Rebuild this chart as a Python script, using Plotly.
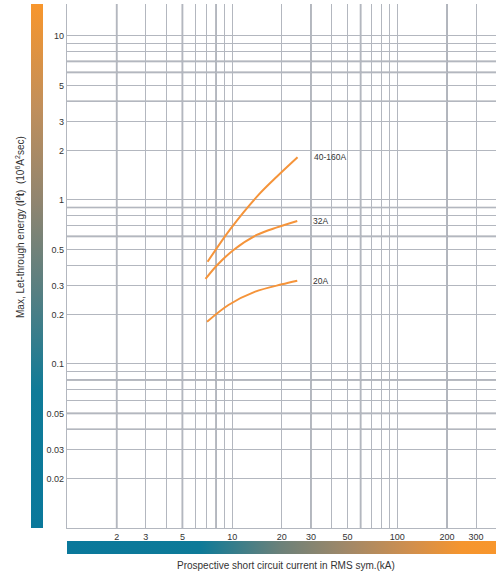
import math
import plotly.graph_objects as go

# ---- data ----
x_40_160 = [7.1, 9.7, 14.4, 18.7, 24.9]
y_40_160 = [0.42, 0.66, 1.07, 1.39, 1.82]

x_32 = [6.9, 8.1, 10.2, 14.1, 18.7, 24.8]
y_32 = [0.33, 0.40, 0.496, 0.612, 0.681, 0.745]

x_20 = [7.05, 9.5, 13.8, 20.0, 24.8]
y_20 = [0.181, 0.229, 0.276, 0.306, 0.322]

series = [("40-160A", x_40_160, y_40_160),
          ("32A", x_32, y_32),
          ("20A", x_20, y_20)]

x_grid = [1, 2, 3, 4, 5, 6, 7, 8, 9, 10, 20, 30, 40, 50, 60, 70, 80, 90, 100, 200, 300]
x_labels = {2: "2", 3: "3", 5: "5", 10: "10", 20: "20", 30: "30", 50: "50",
            100: "100", 200: "200", 300: "300"}
x_dark = [2, 5, 8, 30, 60, 200]

y_grid = [0.02, 0.03, 0.04, 0.05, 0.06, 0.07, 0.08, 0.09,
          0.1, 0.2, 0.3, 0.4, 0.5, 0.6, 0.7, 0.8, 0.9,
          1, 2, 3, 4, 5, 6, 7, 8, 9, 10]
y_labels = {0.02: "0.02", 0.03: "0.03", 0.05: "0.05", 0.1: "0.1", 0.2: "0.2",
            0.3: "0.3", 0.5: "0.5", 1: "1", 2: "2", 3: "3", 5: "5", 10: "10"}
y_dark = [0.04, 0.05, 0.08, 0.6, 0.9, 4, 6, 7]

ORANGE = "#F5943A"
FONT = "Liberation Sans, Arial, sans-serif"
TXT = "#333333"
GRID = "#B3B7BF"
GRID_DARK = "#A0A4AC"

fig = go.Figure()

for name, xs, ys in series:
    fig.add_trace(go.Scatter(x=xs, y=ys, mode="lines", name=name,
                             line=dict(color=ORANGE, width=2, shape="spline", smoothing=0.9),
                             showlegend=False, hoverinfo="skip"))
    fig.add_annotation(x=math.log10(xs[-1]), y=math.log10(ys[-1]), text=name,
                       showarrow=False, xanchor="left", yanchor="middle", xshift=14,
                       font=dict(family=FONT, size=8.5, color=TXT))

for v in x_dark:
    fig.add_shape(type="line", xref="x", yref="paper", x0=v, x1=v, y0=0, y1=1,
                  line=dict(color=GRID_DARK, width=1.7), layer="below")
for v in y_dark:
    fig.add_shape(type="line", xref="paper", yref="y", x0=0, x1=1, y0=v, y1=v,
                  line=dict(color=GRID_DARK, width=1.7), layer="below")

# gradient bars via colorbars of hidden dummy traces
v_scale = [[0, "#0a789b"], [0.26, "#0f7b98"], [0.45, "#567f82"], [0.62, "#8f8570"],
           [0.8, "#c08f5c"], [1, "#f8962c"]]
h_scale = [[0, "#0a789b"], [0.31, "#0e7a98"], [0.5, "#6d8179"], [0.65, "#a08868"],
           [0.8, "#d08f4e"], [0.92, "#f5952e"], [1, "#f8962c"]]

fig.add_trace(go.Scatter(
    x=[5000, 5000], y=[1, 1], mode="markers", showlegend=False, hoverinfo="skip",
    marker=dict(color=[0, 1], colorscale=v_scale, showscale=True, size=1,
                colorbar=dict(x=(31 - 67) / 429, xanchor="left", y=0.5, yanchor="middle",
                              len=1, lenmode="fraction", thickness=12, thicknessmode="pixels",
                              outlinewidth=0, xpad=0, ypad=0, showticklabels=False, ticks=""))))
fig.add_trace(go.Scatter(
    x=[5000, 5000], y=[1, 1], mode="markers", showlegend=False, hoverinfo="skip",
    marker=dict(color=[0, 1], colorscale=h_scale, showscale=True, size=1,
                colorbar=dict(orientation="h", x=0.5, xanchor="center",
                              y=(528 - 541) / 524, yanchor="top",
                              len=1, lenmode="fraction", thickness=13, thicknessmode="pixels",
                              outlinewidth=0, xpad=0, ypad=0, showticklabels=False, ticks=""))))

fig.update_xaxes(type="log", range=[0, 2.598], tickmode="array", tickvals=x_grid,
                 ticktext=[x_labels.get(v, "") for v in x_grid],
                 showgrid=True, gridcolor=GRID, gridwidth=1.4, zeroline=False,
                 showline=True, linecolor=GRID, linewidth=1.4, ticks="",
                 tickfont=dict(family=FONT, size=9, color=TXT), fixedrange=True)
fig.update_yaxes(type="log", range=[-2, 1.195], tickmode="array", tickvals=y_grid,
                 ticktext=[y_labels.get(v, "") for v in y_grid],
                 showgrid=True, gridcolor=GRID, gridwidth=1.4, zeroline=False,
                 showline=True, linecolor=GRID, linewidth=1.4, ticks="",
                 tickfont=dict(family=FONT, size=9, color=TXT), fixedrange=True)

fig.add_annotation(xref="paper", yref="paper", x=(20 - 67) / 429, y=(528 - 227) / 524,
                   text="Max, Let-through energy (<b>I</b><sup>2</sup><b>t</b>)  (10<sup>6</sup>A<sup>2</sup>sec)",
                   textangle=-90, showarrow=False, xanchor="center", yanchor="middle",
                   font=dict(family=FONT, size=10, color=TXT))
fig.add_annotation(xref="paper", yref="paper", x=(286 - 67) / 429, y=(528 - 565) / 524,
                   text="Prospective short circuit current in RMS sym.(kA)",
                   showarrow=False, xanchor="center", yanchor="middle",
                   font=dict(family=FONT, size=10, color=TXT))

fig.update_layout(width=496, height=574,
                  margin=dict(l=67, r=0, t=4, b=46, autoexpand=False),
                  plot_bgcolor="white", paper_bgcolor="white", showlegend=False)

fig.write_html("out.html", config={"displayModeBar": False},
               post_script="document.body.style.margin='0';document.body.style.overflow='hidden';")
